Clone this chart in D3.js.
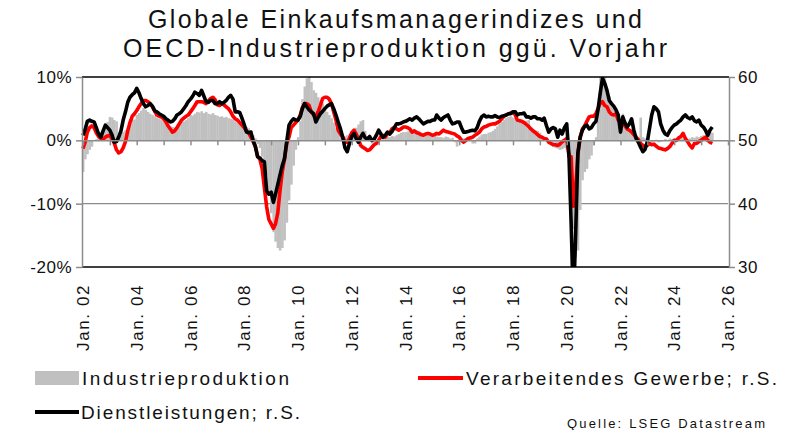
<!DOCTYPE html>
<html>
<head>
<meta charset="utf-8">
<script src="https://cdn.jsdelivr.net/npm/d3@7"></script>
<style>
  body { margin: 0; background: #fff; }
  svg { display: block; font-family: "Liberation Sans", Arial, sans-serif; }
</style>
</head>
<body>
<svg id="chart" width="786" height="430"></svg>
<script>
// Global PMIs (right axis) and OECD industrial production yoy (left axis), monthly from Jan 2002

// Industrieproduktion, % ggü. Vorjahr
const ipValues = [
  -5.0, -3.0, -2.2, -1.5, -1.0, 0.0, 0.2, 0.4, 1.3, 1.5, 2.4, 2.9,      // 2002
  3.7, 3.6, 3.2, 3.0, 0.8, 0.9, 1.3, 1.6, 1.9, 2.5, 3.2, 3.3,          // 2003
  4.0, 4.3, 4.7, 5.1, 4.8, 4.5, 4.2, 4.0, 3.8, 3.6, 3.4, 3.2,          // 2004
  3.0, 2.6, 2.4, 2.2, 2.1, 2.0, 2.3, 2.5, 2.9, 3.0, 3.2, 3.5,          // 2005
  4.0, 3.9, 4.2, 4.5, 4.4, 4.6, 4.3, 4.5, 4.2, 4.1, 4.3, 4.0,          // 2006
  3.9, 3.7, 3.8, 3.6, 3.7, 3.5, 3.4, 3.3, 3.0, 2.8, 2.9, 2.5,          // 2007
  2.1, 2.1, 1.9, 1.5, 0.8, 0.3, -0.6, -1.2, -2.6, -3.8, -5.5, -8.5,    // 2008
  -11.5, -14.5, -16.0, -17.0, -17.4, -17.0, -15.8, -13.0, -9.5, -7.0, -4.0, -1.5, // 2009
  0.5, 3.0, 6.5, 8.5, 9.8, 10.0, 9.2, 7.9, 7.5, 6.8, 6.3, 5.8,         // 2010
  5.0, 4.5, 4.0, 3.5, 2.8, 1.9, 1.6, 1.3, 0.8, 0.6, 0.8, 1.0,          // 2011
  1.3, 1.6, 2.0, 2.5, 3.0, 3.2, 1.5, 0.6, -0.2, -0.5, -0.7, -0.5,      // 2012
  -0.3, 0.0, 0.4, 0.5, 0.6, 0.5, 0.7, 0.6, 0.8, 1.0, 1.2, 1.3,         // 2013
  1.3, 1.4, 1.6, 1.6, 1.7, 1.6, 1.5, 1.2, 1.1, 1.0, 1.0, 0.9,          // 2014
  0.8, 0.7, 0.6, 0.5, 0.5, 0.4, 0.6, 0.5, 0.3, 0.4, -0.3, -1.0,        // 2015
  -0.3, 0.2, 0.3, 0.3, 0.2, 0.3, -0.5, -0.5, 0.3, 0.6, 0.9, 1.0,       // 2016
  1.0, 1.2, 1.3, 1.5, 1.8, 2.2, 2.6, 2.9, 3.2, 3.5, 3.7, 3.8,          // 2017
  3.6, 3.5, 3.4, 3.3, 3.2, 3.0, 3.1, 3.2, 2.0, 1.7, 1.6, 1.5,          // 2018
  1.2, 0.5, 0.3, 0.2, -0.4, -0.8, -1.0, -1.2, -1.3, -1.5, -1.4, -1.2,  // 2019
  -1.5, -2.0, -6.0, -14.0, -18.4, -17.4, -11.0, -6.3, -5.0, -4.5, -3.0, -2.4, // 2020
  -0.8, 0.5, 5.5, 10.0, 10.0, 10.0, 7.9, 7.0, 5.8, 5.0, 4.0, 3.2,      // 2021
  3.0, 4.2, 2.5, 1.6, 1.6, 1.8, 1.3, 0.8, 0.5, 3.6, 0.5, 0.3,          // 2022
  -0.2, 0.0, -0.3, -0.2, 0.1, -0.3, -0.2, 0.0, 0.2, 0.0, 0.3, 0.2,     // 2023
  0.3, 0.1, 0.2, 0.4, 0.3, 0.5, 0.2, 0.3, 0.5, 0.4, 0.6, 0.5,          // 2024
  0.7, 0.8, 0.6, 1.0, 1.3, 1.2                                         // 2025
];

// Verarbeitendes Gewerbe (PMI), r.S.
const mfgValues = [
  48.7, 49.8, 51.3, 52.0, 52.3, 52.0, 51.2, 50.6, 50.3, 50.2, 50.5, 50.7, // 2002
  50.8, 50.2, 49.6, 48.5, 48.0, 48.2, 48.8, 49.8, 51.5, 52.8, 53.8, 54.2, // 2003
  54.7, 55.3, 55.8, 56.3, 56.3, 56.1, 55.8, 55.3, 54.6, 54.0, 53.8, 53.7, // 2004
  53.4, 52.9, 52.3, 51.8, 51.3, 51.5, 52.0, 52.6, 53.2, 53.5, 53.8, 54.0, // 2005
  54.5, 55.0, 55.5, 56.1, 56.1, 56.1, 56.0, 55.8, 56.2, 56.6, 56.8, 56.4, // 2006
  55.6, 55.5, 55.8, 55.6, 55.3, 55.0, 54.5, 53.8, 53.4, 53.2, 52.8, 52.4, // 2007
  52.0, 51.5, 51.2, 50.5, 49.8, 49.0, 47.5, 47.0, 45.5, 42.5, 39.5, 37.5, // 2008
  36.8, 36.1, 36.8, 38.5, 42.0, 45.0, 47.0, 49.5, 50.5, 52.0, 52.4, 52.8, // 2009
  53.2, 54.0, 55.2, 55.8, 55.8, 55.5, 54.5, 54.0, 53.7, 54.5, 55.5, 56.6, // 2010
  56.8, 56.8, 56.5, 55.8, 54.5, 53.2, 51.6, 51.0, 50.5, 49.8, 49.7, 50.3, // 2011
  51.2, 51.6, 51.0, 50.2, 49.2, 48.9, 48.7, 48.4, 48.5, 48.9, 49.3, 49.5, // 2012
  50.0, 50.6, 50.8, 50.5, 51.1, 51.2, 51.8, 52.0, 51.8, 51.6, 51.8, 52.1, // 2013
  52.1, 52.0, 51.8, 51.3, 51.5, 51.2, 51.1, 50.9, 50.8, 51.0, 51.1, 51.0, // 2014
  50.8, 50.9, 51.1, 51.0, 51.3, 51.6, 51.4, 51.3, 51.2, 51.1, 51.0, 50.7, // 2015
  50.5, 50.0, 49.7, 50.0, 50.3, 50.4, 50.5, 50.8, 51.0, 51.3, 51.8, 52.1, // 2016
  52.2, 52.4, 52.5, 52.6, 52.6, 52.8, 53.0, 53.4, 53.8, 54.0, 54.2, 54.3, // 2017
  54.5, 54.0, 53.2, 53.1, 53.0, 52.8, 52.5, 52.2, 51.8, 51.5, 51.2, 50.9, // 2018
  50.6, 50.5, 50.3, 50.2, 49.7, 49.5, 49.3, 49.3, 49.2, 49.4, 49.8, 50.0, // 2019
  50.3, 47.5, 47.4, 39.6, 42.4, 47.9, 50.3, 51.8, 52.3, 53.0, 53.7, 53.8, // 2020
  53.8, 54.2, 55.0, 55.9, 56.1, 55.5, 55.3, 54.5, 54.1, 54.0, 54.2, 53.2, // 2021
  52.9, 52.6, 52.3, 51.8, 51.6, 51.3, 50.9, 50.5, 50.1, 49.5, 49.2, 49.0, // 2022
  49.2, 49.5, 49.3, 49.4, 49.1, 48.8, 48.7, 48.6, 48.5, 48.7, 49.0, 49.5, // 2023
  50.0, 50.0, 50.4, 50.6, 51.1, 50.3, 49.8, 49.2, 48.8, 49.5, 49.5, 49.8, // 2024
  50.0, 50.3, 50.5, 50.0, 49.7, 49.5                                      // 2025
];

// Dienstleistungen (PMI), r.S.
const svcValues = [
  50.8, 51.8, 53.0, 53.2, 53.0, 52.9, 52.0, 51.0, 50.5, 51.5, 52.4, 52.0, // 2002
  51.6, 50.8, 49.7, 49.8, 50.5, 51.5, 53.2, 54.5, 56.0, 56.8, 57.2, 57.5, // 2003
  58.2, 57.5, 56.6, 55.8, 55.3, 55.5, 55.8, 55.4, 54.7, 54.5, 54.2, 54.0, // 2004
  53.8, 53.4, 53.2, 52.9, 53.0, 53.4, 54.0, 54.2, 54.5, 55.0, 55.5, 56.1, // 2005
  56.5, 57.0, 57.6, 57.4, 57.1, 57.9, 57.0, 56.1, 56.0, 56.3, 56.3, 55.8, // 2006
  55.8, 56.1, 55.8, 56.0, 56.3, 56.8, 57.1, 56.5, 54.5, 54.5, 54.4, 53.5, // 2007
  52.5, 51.3, 51.2, 51.3, 50.0, 49.0, 47.4, 47.2, 46.8, 46.6, 42.0, 41.5, // 2008
  41.8, 40.2, 41.5, 43.0, 44.5, 46.0, 47.1, 49.8, 52.4, 53.0, 53.4, 53.2, // 2009
  53.2, 53.8, 55.0, 55.8, 55.3, 54.8, 54.5, 54.2, 52.9, 53.6, 54.2, 54.6, // 2010
  55.0, 55.4, 55.6, 55.8, 55.0, 54.0, 52.9, 51.8, 50.5, 48.8, 48.2, 49.5, // 2011
  50.6, 51.1, 50.3, 49.7, 50.5, 51.1, 50.4, 50.2, 50.6, 50.0, 50.2, 50.8, // 2012
  51.6, 51.0, 50.5, 50.8, 51.3, 51.0, 51.4, 52.0, 52.6, 52.6, 52.7, 52.9, // 2013
  53.0, 53.2, 53.4, 53.2, 53.5, 53.7, 53.4, 53.0, 52.6, 52.8, 53.0, 53.0, // 2014
  53.2, 53.2, 54.0, 53.5, 53.2, 53.6, 53.8, 54.0, 53.2, 52.6, 52.7, 52.9, // 2015
  52.9, 52.0, 51.3, 51.3, 51.4, 51.5, 51.6, 51.5, 52.0, 53.0, 53.7, 54.0, // 2016
  53.7, 53.8, 53.7, 53.7, 53.9, 53.7, 53.6, 53.8, 53.9, 54.0, 54.2, 54.2, // 2017
  54.5, 54.5, 54.0, 54.2, 54.2, 54.3, 53.7, 53.7, 53.5, 53.7, 53.7, 53.4, // 2018
  53.4, 53.2, 53.5, 52.3, 51.3, 51.8, 52.0, 51.8, 50.5, 51.6, 51.0, 52.0, // 2019
  52.6, 47.5, 37.0, 24.0, 35.0, 48.0, 50.5, 51.6, 52.2, 52.4, 51.8, 52.0, // 2020
  52.6, 53.0, 54.8, 57.5, 59.8, 59.0, 57.9, 56.3, 55.8, 55.4, 54.8, 54.0, // 2021
  51.3, 53.7, 52.8, 52.1, 52.6, 53.4, 51.6, 50.3, 49.7, 48.9, 48.2, 48.6, // 2022
  49.8, 52.0, 54.0, 55.3, 55.0, 54.5, 52.6, 51.6, 51.0, 50.8, 51.5, 52.0, // 2023
  52.4, 52.6, 52.9, 53.2, 53.7, 54.0, 53.6, 53.4, 53.7, 53.1, 52.9, 53.2, // 2024
  52.4, 52.1, 51.6, 50.8, 51.6, 52.1                                      // 2025
];

const leftTicks = [-20, -10, 0, 10];
const rightTicks = [30, 40, 50, 60];
const labelYears = d3.range(2002, 2027, 2);

const months = ipValues.map((d, i) => new Date(2002, i, 1));

const PLOT = { left: 83, right: 728, top: 77, bottom: 267 };
const FONT = '"Liberation Sans", Arial, sans-serif';

const svg = d3.select('#chart');

const x = d3.scaleTime()
  .domain([new Date(2002, 0, 1), new Date(2026, 0, 1)])
  .range([PLOT.left, PLOT.right]);
const yLeft = d3.scaleLinear().domain([-20, 10]).range([PLOT.bottom, PLOT.top]);
const yRight = d3.scaleLinear().domain([30, 60]).range([PLOT.bottom, PLOT.top]);

// Title
const titleLines = [
  { text: 'Globale Einkaufsmanagerindizes und', y: 28, len: 494 },
  { text: 'OECD-Industrieproduktion ggü. Vorjahr', y: 57, len: 544 }
];
svg.selectAll('text.title')
  .data(titleLines)
  .enter().append('text')
  .attr('class', 'title')
  .attr('x', 395)
  .attr('y', d => d.y)
  .attr('text-anchor', 'middle')
  .attr('font-size', 25)
  .attr('fill', '#111')
  .attr('textLength', d => d.len)
  .attr('lengthAdjust', 'spacing')
  .text(d => d.text);

// Clip for data marks
svg.append('clipPath').attr('id', 'plotClip')
  .append('rect')
  .attr('x', PLOT.left - 2).attr('y', PLOT.top)
  .attr('width', PLOT.right - PLOT.left + 4).attr('height', PLOT.bottom - PLOT.top);

// Gridline at -10%
svg.append('line')
  .attr('x1', PLOT.left).attr('x2', PLOT.right)
  .attr('y1', yLeft(-10)).attr('y2', yLeft(-10))
  .attr('stroke', '#8c8c8c').attr('stroke-width', 1.2);

const marks = svg.append('g').attr('clip-path', 'url(#plotClip)');

// Bars: Industrieproduktion
marks.selectAll('rect.ip')
  .data(ipValues)
  .enter().append('rect')
  .attr('class', 'ip')
  .attr('x', (d, i) => x(months[i]) - (x(new Date(2002, i + 1, 1)) - x(months[i])) / 2)
  .attr('width', (d, i) => x(new Date(2002, i + 1, 1)) - x(months[i]) + 0.3)
  .attr('y', d => Math.min(yLeft(d), yLeft(0)))
  .attr('height', d => Math.abs(yLeft(d) - yLeft(0)))
  .attr('fill', '#c0c0c0');

// Zero line / x axis with yearly ticks
const xAxis = d3.axisBottom(x)
  .ticks(d3.timeYear.every(1))
  .tickSize(5)
  .tickSizeOuter(0)
  .tickFormat('');
const xAxisG = svg.append('g')
  .attr('transform', `translate(0,${yLeft(0)})`)
  .call(xAxis);
xAxisG.select('.domain').attr('stroke', '#8c8c8c').attr('stroke-width', 1.5);
xAxisG.selectAll('.tick line').attr('stroke', '#8c8c8c').attr('stroke-width', 1.5);

// Lines
const lineFor = (vals) => d3.line()
  .x((d, i) => x(months[i]))
  .y(d => yRight(d))(vals);

marks.append('path')
  .attr('d', lineFor(mfgValues))
  .attr('fill', 'none')
  .attr('stroke', '#ff0000')
  .attr('stroke-width', 3.6)
  .attr('stroke-linejoin', 'round');

marks.append('path')
  .attr('d', lineFor(svcValues))
  .attr('fill', 'none')
  .attr('stroke', '#000')
  .attr('stroke-width', 3.6)
  .attr('stroke-linejoin', 'round');

// Top and bottom frame
[PLOT.top, PLOT.bottom].forEach(yy => {
  svg.append('line')
    .attr('x1', PLOT.left - 1).attr('x2', PLOT.right + 1)
    .attr('y1', yy).attr('y2', yy)
    .attr('stroke', '#000').attr('stroke-width', 1.5);
});

// Left axis
const leftAxisG = svg.append('g')
  .attr('transform', `translate(${PLOT.left - 1},0)`)
  .call(d3.axisLeft(yLeft).tickValues(leftTicks).tickSize(6).tickSizeOuter(0)
    .tickFormat(d => d + '%'));
// Right axis
const rightAxisG = svg.append('g')
  .attr('transform', `translate(${PLOT.right + 1},0)`)
  .call(d3.axisRight(yRight).tickValues(rightTicks).tickSize(6).tickSizeOuter(0));

[leftAxisG, rightAxisG].forEach(g => {
  g.select('.domain').attr('stroke', '#8c8c8c').attr('stroke-width', 1.5);
  g.selectAll('.tick line').attr('stroke', '#8c8c8c').attr('stroke-width', 1.5);
  g.selectAll('.tick text')
    .attr('font-family', FONT)
    .attr('font-size', 17)
    .attr('letter-spacing', '0.5px')
    .attr('fill', '#111');
});
leftAxisG.selectAll('.tick text').attr('x', -10);
rightAxisG.selectAll('.tick text').attr('x', 9);

// Rotated year labels
svg.selectAll('text.xlab')
  .data(labelYears)
  .enter().append('text')
  .attr('class', 'xlab')
  .attr('transform', d => `translate(${x(new Date(d, 0, 1))},284) rotate(-90)`)
  .attr('text-anchor', 'end')
  .attr('dy', '0.36em')
  .attr('font-size', 17)
  .attr('letter-spacing', '1.6px')
  .attr('fill', '#111')
  .text(d => 'Jan. ' + String(d).slice(2));

// Legend
const legend = svg.append('g').attr('font-size', 19).attr('fill', '#111');
legend.append('rect')
  .attr('x', 35).attr('y', 371).attr('width', 44).attr('height', 14)
  .attr('fill', '#c0c0c0');
legend.append('text')
  .attr('x', 82).attr('y', 385)
  .attr('textLength', 207).attr('lengthAdjust', 'spacing')
  .text('Industrieproduktion');

legend.append('line')
  .attr('x1', 418).attr('x2', 463).attr('y1', 378).attr('y2', 378)
  .attr('stroke', '#ff0000').attr('stroke-width', 4);
legend.append('text')
  .attr('x', 466).attr('y', 385)
  .attr('textLength', 311).attr('lengthAdjust', 'spacing')
  .text('Verarbeitendes Gewerbe; r.S.');

legend.append('line')
  .attr('x1', 35).attr('x2', 79).attr('y1', 412).attr('y2', 412)
  .attr('stroke', '#000').attr('stroke-width', 4);
legend.append('text')
  .attr('x', 81).attr('y', 419)
  .attr('textLength', 219).attr('lengthAdjust', 'spacing')
  .text('Dienstleistungen; r.S.');

svg.append('text')
  .attr('x', 765).attr('y', 428)
  .attr('text-anchor', 'end')
  .attr('font-size', 13)
  .attr('fill', '#111')
  .attr('textLength', 198).attr('lengthAdjust', 'spacing')
  .text('Quelle: LSEG Datastream');
</script>
</body>
</html>
